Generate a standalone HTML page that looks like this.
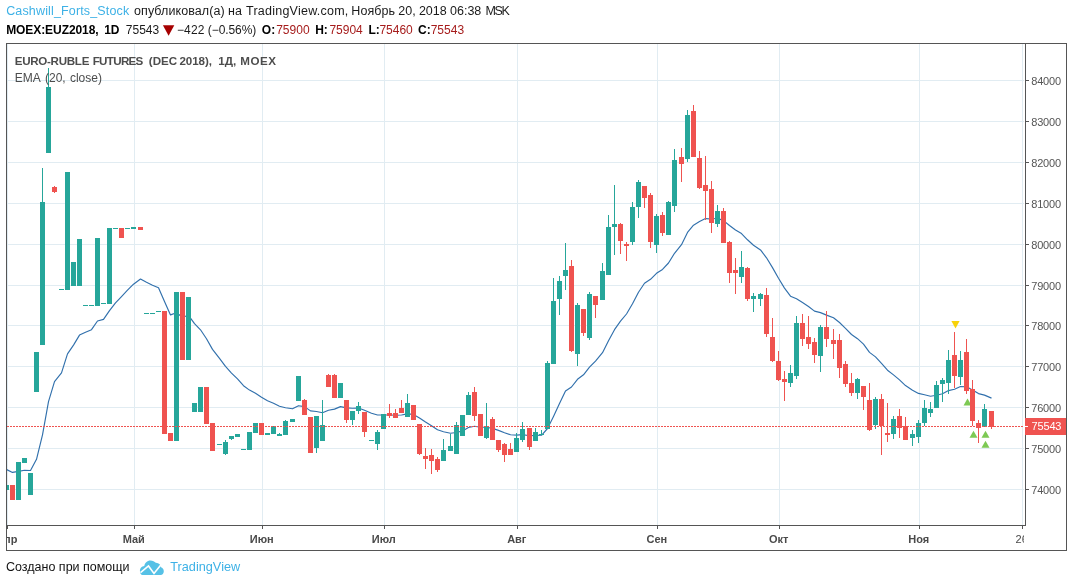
<!DOCTYPE html>
<html lang="ru"><head><meta charset="utf-8"><title>EUZ2018</title>
<style>
html,body{margin:0;padding:0;background:#fff;}
body{width:1073px;height:587px;position:relative;overflow:hidden;font-family:"Liberation Sans",sans-serif;}
svg{position:absolute;left:0;top:0;}
.t{position:absolute;white-space:nowrap;line-height:1;}
</style></head><body>
<svg width="1073" height="587" viewBox="0 0 1073 587">
<defs><clipPath id="plot"><rect x="7" y="44" width="1017" height="481"/></clipPath><clipPath id="xax"><rect x="7" y="526" width="1017" height="24"/></clipPath></defs>
<g shape-rendering="crispEdges" fill="#e1ecf2">
<rect x="7" y="80" width="1017" height="1"/>
<rect x="7" y="121" width="1017" height="1"/>
<rect x="7" y="162" width="1017" height="1"/>
<rect x="7" y="203" width="1017" height="1"/>
<rect x="7" y="244" width="1017" height="1"/>
<rect x="7" y="285" width="1017" height="1"/>
<rect x="7" y="325" width="1017" height="1"/>
<rect x="7" y="366" width="1017" height="1"/>
<rect x="7" y="407" width="1017" height="1"/>
<rect x="7" y="448" width="1017" height="1"/>
<rect x="7" y="489" width="1017" height="1"/>
<rect x="7" y="44" width="1" height="481"/>
<rect x="134" y="44" width="1" height="481"/>
<rect x="262" y="44" width="1" height="481"/>
<rect x="384" y="44" width="1" height="481"/>
<rect x="517" y="44" width="1" height="481"/>
<rect x="657" y="44" width="1" height="481"/>
<rect x="779" y="44" width="1" height="481"/>
<rect x="919" y="44" width="1" height="481"/>
<rect x="1022" y="44" width="1" height="481"/>
</g>
<polyline clip-path="url(#plot)" points="6.5,469.5 12.5,472.4 18.5,471.4 24.5,470.2 30.5,470.5 36.5,459.3 42.5,434.8 48.5,401.7 54.5,381.7 61.5,372.9 67.5,353.8 73.5,345.1 79.5,335.1 85.5,332.3 91.5,329.7 97.5,321.0 103.5,319.4 109.5,310.7 115.5,302.9 121.5,296.6 127.5,290.2 133.5,284.2 140.5,279.0 146.5,282.3 152.5,285.2 158.5,287.7 164.5,301.6 170.5,314.9 176.5,312.7 182.5,317.2 188.5,315.3 194.5,323.7 200.5,329.8 206.5,338.7 212.5,349.4 219.5,358.4 225.5,366.4 231.5,373.1 237.5,378.9 243.5,385.7 249.5,390.1 255.5,393.3 261.5,397.2 267.5,400.7 273.5,403.2 279.5,406.2 285.5,407.7 292.5,408.8 298.5,405.7 304.5,406.6 310.5,410.9 316.5,411.5 322.5,412.8 328.5,410.3 334.5,409.1 340.5,406.6 346.5,407.9 352.5,408.2 358.5,408.0 364.5,410.3 371.5,413.2 377.5,415.0 383.5,415.0 389.5,415.0 395.5,415.2 401.5,415.0 407.5,413.9 413.5,414.4 419.5,418.1 425.5,422.0 431.5,425.7 437.5,429.8 443.5,431.8 450.5,433.2 456.5,432.5 462.5,430.9 468.5,427.5 474.5,426.3 480.5,427.2 486.5,427.2 492.5,428.4 498.5,430.4 504.5,432.7 510.5,434.8 516.5,435.1 522.5,434.6 529.5,435.7 535.5,435.4 541.5,435.3 547.5,428.5 553.5,416.4 559.5,403.6 565.5,390.9 571.5,387.0 577.5,379.3 583.5,374.8 589.5,367.2 595.5,361.2 602.5,352.7 608.5,340.7 614.5,329.7 620.5,321.2 626.5,314.0 632.5,303.8 638.5,292.3 644.5,283.2 650.5,279.3 656.5,273.3 662.5,269.4 668.5,263.0 674.5,253.3 681.5,244.7 687.5,232.4 693.5,225.2 699.5,221.6 705.5,218.6 711.5,219.0 717.5,218.3 723.5,220.6 729.5,225.5 735.5,230.0 741.5,233.6 747.5,239.8 753.5,245.2 760.5,249.9 766.5,257.8 772.5,267.6 778.5,278.3 784.5,288.1 790.5,296.2 796.5,298.8 802.5,302.6 808.5,306.5 814.5,311.1 820.5,312.6 826.5,315.1 833.5,317.8 839.5,322.5 845.5,328.3 851.5,334.5 857.5,338.7 863.5,344.2 869.5,352.4 875.5,356.9 881.5,363.4 887.5,370.2 893.5,374.9 899.5,379.9 905.5,385.6 912.5,390.2 918.5,393.4 924.5,394.8 930.5,396.2 936.5,395.2 942.5,393.8 948.5,390.6 954.5,389.2 960.5,386.5 966.5,386.8 972.5,390.0 978.5,393.6 984.5,395.1 991.5,398.1" fill="none" stroke="#3170ac" stroke-width="1.15" stroke-linejoin="round"/>
<path d="M951.4 321.1L959.6 321.1L955.5 328.5z" fill="#f8d20a"/>
<path d="M963.5 405.6L967.5 398.6L971.5 405.6z" fill="#7dc954"/>
<path d="M969.5 437.7L973.5 430.7L977.5 437.7z" fill="#7dc954"/>
<path d="M981.5 437.7L985.5 430.7L989.5 437.7z" fill="#7dc954"/>
<path d="M981.5 447.8L985.5 440.8L989.5 447.8z" fill="#7dc954"/>
<g shape-rendering="crispEdges" clip-path="url(#plot)">
<rect x="4" y="485" width="5" height="5" fill="#26a69a"/>
<rect x="10" y="485" width="5" height="15" fill="#ef5350"/>
<rect x="16" y="462" width="5" height="38" fill="#26a69a"/>
<rect x="22" y="458" width="5" height="5" fill="#26a69a"/>
<rect x="28" y="473" width="5" height="22" fill="#26a69a"/>
<rect x="34" y="352" width="5" height="40" fill="#26a69a"/>
<rect x="42" y="168" width="1" height="177" fill="#26a69a"/>
<rect x="40" y="202" width="5" height="143" fill="#26a69a"/>
<rect x="48" y="68" width="1" height="85" fill="#26a69a"/>
<rect x="46" y="87" width="5" height="66" fill="#26a69a"/>
<rect x="54" y="186" width="1" height="7" fill="#ef5350"/>
<rect x="52" y="187" width="5" height="5" fill="#ef5350"/>
<rect x="59" y="289" width="5" height="1" fill="#26a69a"/>
<rect x="65" y="172" width="5" height="118" fill="#26a69a"/>
<rect x="71" y="262" width="5" height="24" fill="#26a69a"/>
<rect x="77" y="239" width="5" height="47" fill="#26a69a"/>
<rect x="83" y="305" width="5" height="1" fill="#26a69a"/>
<rect x="89" y="305" width="5" height="1" fill="#26a69a"/>
<rect x="95" y="238" width="5" height="68" fill="#26a69a"/>
<rect x="101" y="303" width="5" height="1" fill="#26a69a"/>
<rect x="107" y="228" width="5" height="76" fill="#26a69a"/>
<rect x="113" y="228" width="5" height="1" fill="#26a69a"/>
<rect x="119" y="228" width="5" height="10" fill="#ef5350"/>
<rect x="125" y="228" width="5" height="1" fill="#26a69a"/>
<rect x="131" y="227" width="5" height="2" fill="#26a69a"/>
<rect x="138" y="227" width="5" height="3" fill="#ef5350"/>
<rect x="144" y="313" width="5" height="1" fill="#26a69a"/>
<rect x="150" y="313" width="5" height="1" fill="#26a69a"/>
<rect x="156" y="311" width="5" height="1" fill="#26a69a"/>
<rect x="162" y="311" width="5" height="123" fill="#ef5350"/>
<rect x="168" y="433" width="5" height="8" fill="#ef5350"/>
<rect x="174" y="292" width="5" height="149" fill="#26a69a"/>
<rect x="180" y="292" width="5" height="68" fill="#ef5350"/>
<rect x="186" y="297" width="5" height="63" fill="#26a69a"/>
<rect x="192" y="403" width="5" height="9" fill="#26a69a"/>
<rect x="198" y="387" width="5" height="25" fill="#26a69a"/>
<rect x="204" y="387" width="5" height="37" fill="#ef5350"/>
<rect x="210" y="423" width="5" height="28" fill="#ef5350"/>
<rect x="217" y="444" width="5" height="1" fill="#26a69a"/>
<rect x="225" y="440" width="1" height="15" fill="#26a69a"/>
<rect x="223" y="442" width="5" height="12" fill="#26a69a"/>
<rect x="231" y="436" width="1" height="4" fill="#26a69a"/>
<rect x="229" y="436" width="5" height="3" fill="#26a69a"/>
<rect x="235" y="434" width="5" height="3" fill="#26a69a"/>
<rect x="241" y="449" width="5" height="1" fill="#26a69a"/>
<rect x="247" y="432" width="5" height="18" fill="#26a69a"/>
<rect x="253" y="423" width="5" height="10" fill="#26a69a"/>
<rect x="259" y="423" width="5" height="12" fill="#ef5350"/>
<rect x="265" y="433" width="5" height="2" fill="#26a69a"/>
<rect x="273" y="426" width="1" height="8" fill="#26a69a"/>
<rect x="271" y="427" width="5" height="7" fill="#26a69a"/>
<rect x="279" y="433" width="1" height="3" fill="#26a69a"/>
<rect x="277" y="434" width="5" height="2" fill="#26a69a"/>
<rect x="285" y="420" width="1" height="15" fill="#26a69a"/>
<rect x="283" y="421" width="5" height="14" fill="#26a69a"/>
<rect x="290" y="419" width="5" height="3" fill="#26a69a"/>
<rect x="296" y="376" width="5" height="25" fill="#26a69a"/>
<rect x="304" y="399" width="1" height="16" fill="#ef5350"/>
<rect x="302" y="400" width="5" height="15" fill="#ef5350"/>
<rect x="308" y="417" width="5" height="36" fill="#ef5350"/>
<rect x="316" y="416" width="1" height="37" fill="#26a69a"/>
<rect x="314" y="416" width="5" height="32" fill="#26a69a"/>
<rect x="322" y="400" width="1" height="41" fill="#26a69a"/>
<rect x="320" y="425" width="5" height="16" fill="#26a69a"/>
<rect x="328" y="374" width="1" height="13" fill="#ef5350"/>
<rect x="326" y="375" width="5" height="12" fill="#ef5350"/>
<rect x="334" y="374" width="1" height="24" fill="#ef5350"/>
<rect x="332" y="375" width="5" height="23" fill="#ef5350"/>
<rect x="338" y="383" width="5" height="15" fill="#26a69a"/>
<rect x="346" y="400" width="1" height="23" fill="#ef5350"/>
<rect x="344" y="400" width="5" height="20" fill="#ef5350"/>
<rect x="352" y="411" width="1" height="14" fill="#26a69a"/>
<rect x="350" y="411" width="5" height="9" fill="#26a69a"/>
<rect x="358" y="402" width="1" height="12" fill="#26a69a"/>
<rect x="356" y="406" width="5" height="5" fill="#26a69a"/>
<rect x="364" y="412" width="1" height="25" fill="#ef5350"/>
<rect x="362" y="412" width="5" height="20" fill="#ef5350"/>
<rect x="369" y="440" width="5" height="1" fill="#26a69a"/>
<rect x="377" y="430" width="1" height="20" fill="#26a69a"/>
<rect x="375" y="432" width="5" height="12" fill="#26a69a"/>
<rect x="381" y="414" width="5" height="15" fill="#26a69a"/>
<rect x="389" y="404" width="1" height="14" fill="#ef5350"/>
<rect x="387" y="413" width="5" height="3" fill="#ef5350"/>
<rect x="395" y="409" width="1" height="9" fill="#ef5350"/>
<rect x="393" y="413" width="5" height="5" fill="#ef5350"/>
<rect x="401" y="400" width="1" height="13" fill="#ef5350"/>
<rect x="399" y="408" width="5" height="5" fill="#ef5350"/>
<rect x="407" y="394" width="1" height="23" fill="#26a69a"/>
<rect x="405" y="403" width="5" height="14" fill="#26a69a"/>
<rect x="411" y="405" width="5" height="15" fill="#ef5350"/>
<rect x="419" y="424" width="1" height="31" fill="#ef5350"/>
<rect x="417" y="424" width="5" height="30" fill="#ef5350"/>
<rect x="425" y="448" width="1" height="21" fill="#ef5350"/>
<rect x="423" y="456" width="5" height="3" fill="#ef5350"/>
<rect x="431" y="449" width="1" height="25" fill="#ef5350"/>
<rect x="429" y="455" width="5" height="6" fill="#ef5350"/>
<rect x="437" y="457" width="1" height="15" fill="#ef5350"/>
<rect x="435" y="459" width="5" height="11" fill="#ef5350"/>
<rect x="443" y="439" width="1" height="22" fill="#26a69a"/>
<rect x="441" y="450" width="5" height="11" fill="#26a69a"/>
<rect x="450" y="434" width="1" height="17" fill="#26a69a"/>
<rect x="448" y="446" width="5" height="5" fill="#26a69a"/>
<rect x="456" y="422" width="1" height="32" fill="#26a69a"/>
<rect x="454" y="425" width="5" height="29" fill="#26a69a"/>
<rect x="460" y="415" width="5" height="21" fill="#26a69a"/>
<rect x="468" y="392" width="1" height="23" fill="#26a69a"/>
<rect x="466" y="395" width="5" height="20" fill="#26a69a"/>
<rect x="474" y="387" width="1" height="34" fill="#ef5350"/>
<rect x="472" y="392" width="5" height="24" fill="#ef5350"/>
<rect x="478" y="414" width="5" height="22" fill="#ef5350"/>
<rect x="486" y="403" width="1" height="36" fill="#26a69a"/>
<rect x="484" y="427" width="5" height="11" fill="#26a69a"/>
<rect x="492" y="417" width="1" height="23" fill="#ef5350"/>
<rect x="490" y="419" width="5" height="21" fill="#ef5350"/>
<rect x="498" y="440" width="1" height="12" fill="#ef5350"/>
<rect x="496" y="440" width="5" height="10" fill="#ef5350"/>
<rect x="504" y="443" width="1" height="19" fill="#ef5350"/>
<rect x="502" y="444" width="5" height="11" fill="#ef5350"/>
<rect x="510" y="443" width="1" height="12" fill="#ef5350"/>
<rect x="508" y="449" width="5" height="6" fill="#ef5350"/>
<rect x="516" y="433" width="1" height="19" fill="#26a69a"/>
<rect x="514" y="438" width="5" height="14" fill="#26a69a"/>
<rect x="522" y="422" width="1" height="20" fill="#26a69a"/>
<rect x="520" y="429" width="5" height="11" fill="#26a69a"/>
<rect x="529" y="428" width="1" height="22" fill="#ef5350"/>
<rect x="527" y="428" width="5" height="19" fill="#ef5350"/>
<rect x="535" y="428" width="1" height="13" fill="#26a69a"/>
<rect x="533" y="432" width="5" height="9" fill="#26a69a"/>
<rect x="541" y="430" width="1" height="5" fill="#26a69a"/>
<rect x="539" y="434" width="5" height="1" fill="#26a69a"/>
<rect x="547" y="361" width="1" height="68" fill="#26a69a"/>
<rect x="545" y="363" width="5" height="66" fill="#26a69a"/>
<rect x="553" y="278" width="1" height="86" fill="#26a69a"/>
<rect x="551" y="301" width="5" height="63" fill="#26a69a"/>
<rect x="559" y="276" width="1" height="39" fill="#26a69a"/>
<rect x="557" y="281" width="5" height="18" fill="#26a69a"/>
<rect x="565" y="243" width="1" height="47" fill="#26a69a"/>
<rect x="563" y="270" width="5" height="6" fill="#26a69a"/>
<rect x="571" y="260" width="1" height="92" fill="#ef5350"/>
<rect x="569" y="266" width="5" height="85" fill="#ef5350"/>
<rect x="577" y="303" width="1" height="63" fill="#26a69a"/>
<rect x="575" y="305" width="5" height="49" fill="#26a69a"/>
<rect x="583" y="309" width="1" height="27" fill="#ef5350"/>
<rect x="581" y="309" width="5" height="24" fill="#ef5350"/>
<rect x="589" y="292" width="1" height="48" fill="#26a69a"/>
<rect x="587" y="294" width="5" height="44" fill="#26a69a"/>
<rect x="595" y="296" width="1" height="22" fill="#ef5350"/>
<rect x="593" y="296" width="5" height="9" fill="#ef5350"/>
<rect x="602" y="263" width="1" height="37" fill="#26a69a"/>
<rect x="600" y="271" width="5" height="29" fill="#26a69a"/>
<rect x="608" y="215" width="1" height="60" fill="#26a69a"/>
<rect x="606" y="227" width="5" height="48" fill="#26a69a"/>
<rect x="614" y="185" width="1" height="70" fill="#26a69a"/>
<rect x="612" y="224" width="5" height="3" fill="#26a69a"/>
<rect x="620" y="223" width="1" height="31" fill="#ef5350"/>
<rect x="618" y="224" width="5" height="17" fill="#ef5350"/>
<rect x="626" y="242" width="1" height="19" fill="#ef5350"/>
<rect x="624" y="244" width="5" height="2" fill="#ef5350"/>
<rect x="632" y="202" width="1" height="43" fill="#26a69a"/>
<rect x="630" y="207" width="5" height="35" fill="#26a69a"/>
<rect x="638" y="180" width="1" height="38" fill="#26a69a"/>
<rect x="636" y="182" width="5" height="25" fill="#26a69a"/>
<rect x="644" y="186" width="1" height="22" fill="#ef5350"/>
<rect x="642" y="186" width="5" height="12" fill="#ef5350"/>
<rect x="650" y="193" width="1" height="55" fill="#ef5350"/>
<rect x="648" y="195" width="5" height="47" fill="#ef5350"/>
<rect x="656" y="214" width="1" height="39" fill="#26a69a"/>
<rect x="654" y="216" width="5" height="29" fill="#26a69a"/>
<rect x="662" y="212" width="1" height="24" fill="#ef5350"/>
<rect x="660" y="215" width="5" height="18" fill="#ef5350"/>
<rect x="668" y="201" width="1" height="34" fill="#26a69a"/>
<rect x="666" y="202" width="5" height="33" fill="#26a69a"/>
<rect x="674" y="149" width="1" height="63" fill="#26a69a"/>
<rect x="672" y="160" width="5" height="46" fill="#26a69a"/>
<rect x="681" y="148" width="1" height="34" fill="#ef5350"/>
<rect x="679" y="157" width="5" height="7" fill="#ef5350"/>
<rect x="687" y="110" width="1" height="52" fill="#26a69a"/>
<rect x="685" y="115" width="5" height="44" fill="#26a69a"/>
<rect x="693" y="105" width="1" height="52" fill="#ef5350"/>
<rect x="691" y="111" width="5" height="46" fill="#ef5350"/>
<rect x="699" y="151" width="1" height="38" fill="#ef5350"/>
<rect x="697" y="158" width="5" height="30" fill="#ef5350"/>
<rect x="705" y="156" width="1" height="64" fill="#ef5350"/>
<rect x="703" y="185" width="5" height="6" fill="#ef5350"/>
<rect x="711" y="181" width="1" height="52" fill="#ef5350"/>
<rect x="709" y="189" width="5" height="34" fill="#ef5350"/>
<rect x="717" y="205" width="1" height="22" fill="#26a69a"/>
<rect x="715" y="211" width="5" height="13" fill="#26a69a"/>
<rect x="723" y="208" width="1" height="35" fill="#ef5350"/>
<rect x="721" y="211" width="5" height="32" fill="#ef5350"/>
<rect x="729" y="241" width="1" height="42" fill="#ef5350"/>
<rect x="727" y="242" width="5" height="31" fill="#ef5350"/>
<rect x="735" y="258" width="1" height="36" fill="#ef5350"/>
<rect x="733" y="270" width="5" height="3" fill="#ef5350"/>
<rect x="741" y="251" width="1" height="32" fill="#26a69a"/>
<rect x="739" y="267" width="5" height="10" fill="#26a69a"/>
<rect x="747" y="267" width="1" height="34" fill="#ef5350"/>
<rect x="745" y="268" width="5" height="31" fill="#ef5350"/>
<rect x="753" y="293" width="1" height="19" fill="#26a69a"/>
<rect x="751" y="296" width="5" height="3" fill="#26a69a"/>
<rect x="760" y="293" width="1" height="13" fill="#26a69a"/>
<rect x="758" y="294" width="5" height="5" fill="#26a69a"/>
<rect x="766" y="288" width="1" height="49" fill="#ef5350"/>
<rect x="764" y="295" width="5" height="39" fill="#ef5350"/>
<rect x="772" y="318" width="1" height="44" fill="#ef5350"/>
<rect x="770" y="337" width="5" height="24" fill="#ef5350"/>
<rect x="778" y="351" width="1" height="30" fill="#ef5350"/>
<rect x="776" y="361" width="5" height="19" fill="#ef5350"/>
<rect x="784" y="371" width="1" height="30" fill="#ef5350"/>
<rect x="782" y="379" width="5" height="3" fill="#ef5350"/>
<rect x="790" y="365" width="1" height="22" fill="#26a69a"/>
<rect x="788" y="373" width="5" height="10" fill="#26a69a"/>
<rect x="796" y="316" width="1" height="63" fill="#26a69a"/>
<rect x="794" y="323" width="5" height="53" fill="#26a69a"/>
<rect x="802" y="314" width="1" height="32" fill="#ef5350"/>
<rect x="800" y="323" width="5" height="16" fill="#ef5350"/>
<rect x="808" y="316" width="1" height="33" fill="#ef5350"/>
<rect x="806" y="337" width="5" height="7" fill="#ef5350"/>
<rect x="814" y="338" width="1" height="25" fill="#ef5350"/>
<rect x="812" y="342" width="5" height="13" fill="#ef5350"/>
<rect x="820" y="325" width="1" height="47" fill="#26a69a"/>
<rect x="818" y="327" width="5" height="29" fill="#26a69a"/>
<rect x="826" y="311" width="1" height="36" fill="#ef5350"/>
<rect x="824" y="327" width="5" height="12" fill="#ef5350"/>
<rect x="833" y="329" width="1" height="30" fill="#ef5350"/>
<rect x="831" y="340" width="5" height="4" fill="#ef5350"/>
<rect x="839" y="334" width="1" height="44" fill="#ef5350"/>
<rect x="837" y="340" width="5" height="28" fill="#ef5350"/>
<rect x="845" y="361" width="1" height="26" fill="#ef5350"/>
<rect x="843" y="364" width="5" height="20" fill="#ef5350"/>
<rect x="851" y="373" width="1" height="23" fill="#ef5350"/>
<rect x="849" y="383" width="5" height="10" fill="#ef5350"/>
<rect x="857" y="378" width="1" height="21" fill="#26a69a"/>
<rect x="855" y="379" width="5" height="14" fill="#26a69a"/>
<rect x="863" y="386" width="1" height="24" fill="#ef5350"/>
<rect x="861" y="386" width="5" height="11" fill="#ef5350"/>
<rect x="869" y="383" width="1" height="48" fill="#ef5350"/>
<rect x="867" y="400" width="5" height="30" fill="#ef5350"/>
<rect x="875" y="397" width="1" height="32" fill="#26a69a"/>
<rect x="873" y="399" width="5" height="26" fill="#26a69a"/>
<rect x="881" y="394" width="1" height="61" fill="#ef5350"/>
<rect x="879" y="399" width="5" height="27" fill="#ef5350"/>
<rect x="887" y="403" width="1" height="39" fill="#ef5350"/>
<rect x="885" y="433" width="5" height="2" fill="#ef5350"/>
<rect x="893" y="416" width="1" height="23" fill="#26a69a"/>
<rect x="891" y="419" width="5" height="15" fill="#26a69a"/>
<rect x="899" y="409" width="1" height="29" fill="#ef5350"/>
<rect x="897" y="416" width="5" height="12" fill="#ef5350"/>
<rect x="905" y="417" width="1" height="23" fill="#ef5350"/>
<rect x="903" y="426" width="5" height="14" fill="#ef5350"/>
<rect x="912" y="430" width="1" height="16" fill="#26a69a"/>
<rect x="910" y="434" width="5" height="4" fill="#26a69a"/>
<rect x="918" y="420" width="1" height="23" fill="#26a69a"/>
<rect x="916" y="423" width="5" height="14" fill="#26a69a"/>
<rect x="924" y="400" width="1" height="26" fill="#26a69a"/>
<rect x="922" y="408" width="5" height="15" fill="#26a69a"/>
<rect x="930" y="402" width="1" height="15" fill="#26a69a"/>
<rect x="928" y="409" width="5" height="4" fill="#26a69a"/>
<rect x="936" y="381" width="1" height="27" fill="#26a69a"/>
<rect x="934" y="385" width="5" height="23" fill="#26a69a"/>
<rect x="942" y="378" width="1" height="24" fill="#26a69a"/>
<rect x="940" y="380" width="5" height="4" fill="#26a69a"/>
<rect x="948" y="350" width="1" height="44" fill="#26a69a"/>
<rect x="946" y="360" width="5" height="23" fill="#26a69a"/>
<rect x="954" y="332" width="1" height="56" fill="#ef5350"/>
<rect x="952" y="355" width="5" height="21" fill="#ef5350"/>
<rect x="960" y="351" width="1" height="34" fill="#26a69a"/>
<rect x="958" y="360" width="5" height="17" fill="#26a69a"/>
<rect x="966" y="339" width="1" height="55" fill="#ef5350"/>
<rect x="964" y="352" width="5" height="39" fill="#ef5350"/>
<rect x="972" y="380" width="1" height="46" fill="#ef5350"/>
<rect x="970" y="389" width="5" height="32" fill="#ef5350"/>
<rect x="978" y="420" width="1" height="23" fill="#ef5350"/>
<rect x="976" y="423" width="5" height="5" fill="#ef5350"/>
<rect x="984" y="404" width="1" height="23" fill="#26a69a"/>
<rect x="982" y="409" width="5" height="18" fill="#26a69a"/>
<rect x="991" y="411" width="1" height="18" fill="#ef5350"/>
<rect x="989" y="411" width="5" height="16" fill="#ef5350"/>
</g>
<g shape-rendering="crispEdges" fill="#ef5350">
<path d="M7 426h1v1h-1zM8 426h1v1h-1zM10 426h1v1h-1zM11 426h1v1h-1zM13 426h1v1h-1zM14 426h1v1h-1zM16 426h1v1h-1zM17 426h1v1h-1zM19 426h1v1h-1zM20 426h1v1h-1zM22 426h1v1h-1zM23 426h1v1h-1zM25 426h1v1h-1zM26 426h1v1h-1zM28 426h1v1h-1zM29 426h1v1h-1zM31 426h1v1h-1zM32 426h1v1h-1zM34 426h1v1h-1zM35 426h1v1h-1zM37 426h1v1h-1zM38 426h1v1h-1zM40 426h1v1h-1zM41 426h1v1h-1zM43 426h1v1h-1zM44 426h1v1h-1zM46 426h1v1h-1zM47 426h1v1h-1zM49 426h1v1h-1zM50 426h1v1h-1zM52 426h1v1h-1zM53 426h1v1h-1zM55 426h1v1h-1zM56 426h1v1h-1zM58 426h1v1h-1zM59 426h1v1h-1zM61 426h1v1h-1zM62 426h1v1h-1zM64 426h1v1h-1zM65 426h1v1h-1zM67 426h1v1h-1zM68 426h1v1h-1zM70 426h1v1h-1zM71 426h1v1h-1zM73 426h1v1h-1zM74 426h1v1h-1zM76 426h1v1h-1zM77 426h1v1h-1zM79 426h1v1h-1zM80 426h1v1h-1zM82 426h1v1h-1zM83 426h1v1h-1zM85 426h1v1h-1zM86 426h1v1h-1zM88 426h1v1h-1zM89 426h1v1h-1zM91 426h1v1h-1zM92 426h1v1h-1zM94 426h1v1h-1zM95 426h1v1h-1zM97 426h1v1h-1zM98 426h1v1h-1zM100 426h1v1h-1zM101 426h1v1h-1zM103 426h1v1h-1zM104 426h1v1h-1zM106 426h1v1h-1zM107 426h1v1h-1zM109 426h1v1h-1zM110 426h1v1h-1zM112 426h1v1h-1zM113 426h1v1h-1zM115 426h1v1h-1zM116 426h1v1h-1zM118 426h1v1h-1zM119 426h1v1h-1zM121 426h1v1h-1zM122 426h1v1h-1zM124 426h1v1h-1zM125 426h1v1h-1zM127 426h1v1h-1zM128 426h1v1h-1zM130 426h1v1h-1zM131 426h1v1h-1zM133 426h1v1h-1zM134 426h1v1h-1zM136 426h1v1h-1zM137 426h1v1h-1zM139 426h1v1h-1zM140 426h1v1h-1zM142 426h1v1h-1zM143 426h1v1h-1zM145 426h1v1h-1zM146 426h1v1h-1zM148 426h1v1h-1zM149 426h1v1h-1zM151 426h1v1h-1zM152 426h1v1h-1zM154 426h1v1h-1zM155 426h1v1h-1zM157 426h1v1h-1zM158 426h1v1h-1zM160 426h1v1h-1zM161 426h1v1h-1zM163 426h1v1h-1zM164 426h1v1h-1zM166 426h1v1h-1zM167 426h1v1h-1zM169 426h1v1h-1zM170 426h1v1h-1zM172 426h1v1h-1zM173 426h1v1h-1zM175 426h1v1h-1zM176 426h1v1h-1zM178 426h1v1h-1zM179 426h1v1h-1zM181 426h1v1h-1zM182 426h1v1h-1zM184 426h1v1h-1zM185 426h1v1h-1zM187 426h1v1h-1zM188 426h1v1h-1zM190 426h1v1h-1zM191 426h1v1h-1zM193 426h1v1h-1zM194 426h1v1h-1zM196 426h1v1h-1zM197 426h1v1h-1zM199 426h1v1h-1zM200 426h1v1h-1zM202 426h1v1h-1zM203 426h1v1h-1zM205 426h1v1h-1zM206 426h1v1h-1zM208 426h1v1h-1zM209 426h1v1h-1zM211 426h1v1h-1zM212 426h1v1h-1zM214 426h1v1h-1zM215 426h1v1h-1zM217 426h1v1h-1zM218 426h1v1h-1zM220 426h1v1h-1zM221 426h1v1h-1zM223 426h1v1h-1zM224 426h1v1h-1zM226 426h1v1h-1zM227 426h1v1h-1zM229 426h1v1h-1zM230 426h1v1h-1zM232 426h1v1h-1zM233 426h1v1h-1zM235 426h1v1h-1zM236 426h1v1h-1zM238 426h1v1h-1zM239 426h1v1h-1zM241 426h1v1h-1zM242 426h1v1h-1zM244 426h1v1h-1zM245 426h1v1h-1zM247 426h1v1h-1zM248 426h1v1h-1zM250 426h1v1h-1zM251 426h1v1h-1zM253 426h1v1h-1zM254 426h1v1h-1zM256 426h1v1h-1zM257 426h1v1h-1zM259 426h1v1h-1zM260 426h1v1h-1zM262 426h1v1h-1zM263 426h1v1h-1zM265 426h1v1h-1zM266 426h1v1h-1zM268 426h1v1h-1zM269 426h1v1h-1zM271 426h1v1h-1zM272 426h1v1h-1zM274 426h1v1h-1zM275 426h1v1h-1zM277 426h1v1h-1zM278 426h1v1h-1zM280 426h1v1h-1zM281 426h1v1h-1zM283 426h1v1h-1zM284 426h1v1h-1zM286 426h1v1h-1zM287 426h1v1h-1zM289 426h1v1h-1zM290 426h1v1h-1zM292 426h1v1h-1zM293 426h1v1h-1zM295 426h1v1h-1zM296 426h1v1h-1zM298 426h1v1h-1zM299 426h1v1h-1zM301 426h1v1h-1zM302 426h1v1h-1zM304 426h1v1h-1zM305 426h1v1h-1zM307 426h1v1h-1zM308 426h1v1h-1zM310 426h1v1h-1zM311 426h1v1h-1zM313 426h1v1h-1zM314 426h1v1h-1zM316 426h1v1h-1zM317 426h1v1h-1zM319 426h1v1h-1zM320 426h1v1h-1zM322 426h1v1h-1zM323 426h1v1h-1zM325 426h1v1h-1zM326 426h1v1h-1zM328 426h1v1h-1zM329 426h1v1h-1zM331 426h1v1h-1zM332 426h1v1h-1zM334 426h1v1h-1zM335 426h1v1h-1zM337 426h1v1h-1zM338 426h1v1h-1zM340 426h1v1h-1zM341 426h1v1h-1zM343 426h1v1h-1zM344 426h1v1h-1zM346 426h1v1h-1zM347 426h1v1h-1zM349 426h1v1h-1zM350 426h1v1h-1zM352 426h1v1h-1zM353 426h1v1h-1zM355 426h1v1h-1zM356 426h1v1h-1zM358 426h1v1h-1zM359 426h1v1h-1zM361 426h1v1h-1zM362 426h1v1h-1zM364 426h1v1h-1zM365 426h1v1h-1zM367 426h1v1h-1zM368 426h1v1h-1zM370 426h1v1h-1zM371 426h1v1h-1zM373 426h1v1h-1zM374 426h1v1h-1zM376 426h1v1h-1zM377 426h1v1h-1zM379 426h1v1h-1zM380 426h1v1h-1zM382 426h1v1h-1zM383 426h1v1h-1zM385 426h1v1h-1zM386 426h1v1h-1zM388 426h1v1h-1zM389 426h1v1h-1zM391 426h1v1h-1zM392 426h1v1h-1zM394 426h1v1h-1zM395 426h1v1h-1zM397 426h1v1h-1zM398 426h1v1h-1zM400 426h1v1h-1zM401 426h1v1h-1zM403 426h1v1h-1zM404 426h1v1h-1zM406 426h1v1h-1zM407 426h1v1h-1zM409 426h1v1h-1zM410 426h1v1h-1zM412 426h1v1h-1zM413 426h1v1h-1zM415 426h1v1h-1zM416 426h1v1h-1zM418 426h1v1h-1zM419 426h1v1h-1zM421 426h1v1h-1zM422 426h1v1h-1zM424 426h1v1h-1zM425 426h1v1h-1zM427 426h1v1h-1zM428 426h1v1h-1zM430 426h1v1h-1zM431 426h1v1h-1zM433 426h1v1h-1zM434 426h1v1h-1zM436 426h1v1h-1zM437 426h1v1h-1zM439 426h1v1h-1zM440 426h1v1h-1zM442 426h1v1h-1zM443 426h1v1h-1zM445 426h1v1h-1zM446 426h1v1h-1zM448 426h1v1h-1zM449 426h1v1h-1zM451 426h1v1h-1zM452 426h1v1h-1zM454 426h1v1h-1zM455 426h1v1h-1zM457 426h1v1h-1zM458 426h1v1h-1zM460 426h1v1h-1zM461 426h1v1h-1zM463 426h1v1h-1zM464 426h1v1h-1zM466 426h1v1h-1zM467 426h1v1h-1zM469 426h1v1h-1zM470 426h1v1h-1zM472 426h1v1h-1zM473 426h1v1h-1zM475 426h1v1h-1zM476 426h1v1h-1zM478 426h1v1h-1zM479 426h1v1h-1zM481 426h1v1h-1zM482 426h1v1h-1zM484 426h1v1h-1zM485 426h1v1h-1zM487 426h1v1h-1zM488 426h1v1h-1zM490 426h1v1h-1zM491 426h1v1h-1zM493 426h1v1h-1zM494 426h1v1h-1zM496 426h1v1h-1zM497 426h1v1h-1zM499 426h1v1h-1zM500 426h1v1h-1zM502 426h1v1h-1zM503 426h1v1h-1zM505 426h1v1h-1zM506 426h1v1h-1zM508 426h1v1h-1zM509 426h1v1h-1zM511 426h1v1h-1zM512 426h1v1h-1zM514 426h1v1h-1zM515 426h1v1h-1zM517 426h1v1h-1zM518 426h1v1h-1zM520 426h1v1h-1zM521 426h1v1h-1zM523 426h1v1h-1zM524 426h1v1h-1zM526 426h1v1h-1zM527 426h1v1h-1zM529 426h1v1h-1zM530 426h1v1h-1zM532 426h1v1h-1zM533 426h1v1h-1zM535 426h1v1h-1zM536 426h1v1h-1zM538 426h1v1h-1zM539 426h1v1h-1zM541 426h1v1h-1zM542 426h1v1h-1zM544 426h1v1h-1zM545 426h1v1h-1zM547 426h1v1h-1zM548 426h1v1h-1zM550 426h1v1h-1zM551 426h1v1h-1zM553 426h1v1h-1zM554 426h1v1h-1zM556 426h1v1h-1zM557 426h1v1h-1zM559 426h1v1h-1zM560 426h1v1h-1zM562 426h1v1h-1zM563 426h1v1h-1zM565 426h1v1h-1zM566 426h1v1h-1zM568 426h1v1h-1zM569 426h1v1h-1zM571 426h1v1h-1zM572 426h1v1h-1zM574 426h1v1h-1zM575 426h1v1h-1zM577 426h1v1h-1zM578 426h1v1h-1zM580 426h1v1h-1zM581 426h1v1h-1zM583 426h1v1h-1zM584 426h1v1h-1zM586 426h1v1h-1zM587 426h1v1h-1zM589 426h1v1h-1zM590 426h1v1h-1zM592 426h1v1h-1zM593 426h1v1h-1zM595 426h1v1h-1zM596 426h1v1h-1zM598 426h1v1h-1zM599 426h1v1h-1zM601 426h1v1h-1zM602 426h1v1h-1zM604 426h1v1h-1zM605 426h1v1h-1zM607 426h1v1h-1zM608 426h1v1h-1zM610 426h1v1h-1zM611 426h1v1h-1zM613 426h1v1h-1zM614 426h1v1h-1zM616 426h1v1h-1zM617 426h1v1h-1zM619 426h1v1h-1zM620 426h1v1h-1zM622 426h1v1h-1zM623 426h1v1h-1zM625 426h1v1h-1zM626 426h1v1h-1zM628 426h1v1h-1zM629 426h1v1h-1zM631 426h1v1h-1zM632 426h1v1h-1zM634 426h1v1h-1zM635 426h1v1h-1zM637 426h1v1h-1zM638 426h1v1h-1zM640 426h1v1h-1zM641 426h1v1h-1zM643 426h1v1h-1zM644 426h1v1h-1zM646 426h1v1h-1zM647 426h1v1h-1zM649 426h1v1h-1zM650 426h1v1h-1zM652 426h1v1h-1zM653 426h1v1h-1zM655 426h1v1h-1zM656 426h1v1h-1zM658 426h1v1h-1zM659 426h1v1h-1zM661 426h1v1h-1zM662 426h1v1h-1zM664 426h1v1h-1zM665 426h1v1h-1zM667 426h1v1h-1zM668 426h1v1h-1zM670 426h1v1h-1zM671 426h1v1h-1zM673 426h1v1h-1zM674 426h1v1h-1zM676 426h1v1h-1zM677 426h1v1h-1zM679 426h1v1h-1zM680 426h1v1h-1zM682 426h1v1h-1zM683 426h1v1h-1zM685 426h1v1h-1zM686 426h1v1h-1zM688 426h1v1h-1zM689 426h1v1h-1zM691 426h1v1h-1zM692 426h1v1h-1zM694 426h1v1h-1zM695 426h1v1h-1zM697 426h1v1h-1zM698 426h1v1h-1zM700 426h1v1h-1zM701 426h1v1h-1zM703 426h1v1h-1zM704 426h1v1h-1zM706 426h1v1h-1zM707 426h1v1h-1zM709 426h1v1h-1zM710 426h1v1h-1zM712 426h1v1h-1zM713 426h1v1h-1zM715 426h1v1h-1zM716 426h1v1h-1zM718 426h1v1h-1zM719 426h1v1h-1zM721 426h1v1h-1zM722 426h1v1h-1zM724 426h1v1h-1zM725 426h1v1h-1zM727 426h1v1h-1zM728 426h1v1h-1zM730 426h1v1h-1zM731 426h1v1h-1zM733 426h1v1h-1zM734 426h1v1h-1zM736 426h1v1h-1zM737 426h1v1h-1zM739 426h1v1h-1zM740 426h1v1h-1zM742 426h1v1h-1zM743 426h1v1h-1zM745 426h1v1h-1zM746 426h1v1h-1zM748 426h1v1h-1zM749 426h1v1h-1zM751 426h1v1h-1zM752 426h1v1h-1zM754 426h1v1h-1zM755 426h1v1h-1zM757 426h1v1h-1zM758 426h1v1h-1zM760 426h1v1h-1zM761 426h1v1h-1zM763 426h1v1h-1zM764 426h1v1h-1zM766 426h1v1h-1zM767 426h1v1h-1zM769 426h1v1h-1zM770 426h1v1h-1zM772 426h1v1h-1zM773 426h1v1h-1zM775 426h1v1h-1zM776 426h1v1h-1zM778 426h1v1h-1zM779 426h1v1h-1zM781 426h1v1h-1zM782 426h1v1h-1zM784 426h1v1h-1zM785 426h1v1h-1zM787 426h1v1h-1zM788 426h1v1h-1zM790 426h1v1h-1zM791 426h1v1h-1zM793 426h1v1h-1zM794 426h1v1h-1zM796 426h1v1h-1zM797 426h1v1h-1zM799 426h1v1h-1zM800 426h1v1h-1zM802 426h1v1h-1zM803 426h1v1h-1zM805 426h1v1h-1zM806 426h1v1h-1zM808 426h1v1h-1zM809 426h1v1h-1zM811 426h1v1h-1zM812 426h1v1h-1zM814 426h1v1h-1zM815 426h1v1h-1zM817 426h1v1h-1zM818 426h1v1h-1zM820 426h1v1h-1zM821 426h1v1h-1zM823 426h1v1h-1zM824 426h1v1h-1zM826 426h1v1h-1zM827 426h1v1h-1zM829 426h1v1h-1zM830 426h1v1h-1zM832 426h1v1h-1zM833 426h1v1h-1zM835 426h1v1h-1zM836 426h1v1h-1zM838 426h1v1h-1zM839 426h1v1h-1zM841 426h1v1h-1zM842 426h1v1h-1zM844 426h1v1h-1zM845 426h1v1h-1zM847 426h1v1h-1zM848 426h1v1h-1zM850 426h1v1h-1zM851 426h1v1h-1zM853 426h1v1h-1zM854 426h1v1h-1zM856 426h1v1h-1zM857 426h1v1h-1zM859 426h1v1h-1zM860 426h1v1h-1zM862 426h1v1h-1zM863 426h1v1h-1zM865 426h1v1h-1zM866 426h1v1h-1zM868 426h1v1h-1zM869 426h1v1h-1zM871 426h1v1h-1zM872 426h1v1h-1zM874 426h1v1h-1zM875 426h1v1h-1zM877 426h1v1h-1zM878 426h1v1h-1zM880 426h1v1h-1zM881 426h1v1h-1zM883 426h1v1h-1zM884 426h1v1h-1zM886 426h1v1h-1zM887 426h1v1h-1zM889 426h1v1h-1zM890 426h1v1h-1zM892 426h1v1h-1zM893 426h1v1h-1zM895 426h1v1h-1zM896 426h1v1h-1zM898 426h1v1h-1zM899 426h1v1h-1zM901 426h1v1h-1zM902 426h1v1h-1zM904 426h1v1h-1zM905 426h1v1h-1zM907 426h1v1h-1zM908 426h1v1h-1zM910 426h1v1h-1zM911 426h1v1h-1zM913 426h1v1h-1zM914 426h1v1h-1zM916 426h1v1h-1zM917 426h1v1h-1zM919 426h1v1h-1zM920 426h1v1h-1zM922 426h1v1h-1zM923 426h1v1h-1zM925 426h1v1h-1zM926 426h1v1h-1zM928 426h1v1h-1zM929 426h1v1h-1zM931 426h1v1h-1zM932 426h1v1h-1zM934 426h1v1h-1zM935 426h1v1h-1zM937 426h1v1h-1zM938 426h1v1h-1zM940 426h1v1h-1zM941 426h1v1h-1zM943 426h1v1h-1zM944 426h1v1h-1zM946 426h1v1h-1zM947 426h1v1h-1zM949 426h1v1h-1zM950 426h1v1h-1zM952 426h1v1h-1zM953 426h1v1h-1zM955 426h1v1h-1zM956 426h1v1h-1zM958 426h1v1h-1zM959 426h1v1h-1zM961 426h1v1h-1zM962 426h1v1h-1zM964 426h1v1h-1zM965 426h1v1h-1zM967 426h1v1h-1zM968 426h1v1h-1zM970 426h1v1h-1zM971 426h1v1h-1zM973 426h1v1h-1zM974 426h1v1h-1zM976 426h1v1h-1zM977 426h1v1h-1zM979 426h1v1h-1zM980 426h1v1h-1zM982 426h1v1h-1zM983 426h1v1h-1zM985 426h1v1h-1zM986 426h1v1h-1zM988 426h1v1h-1zM989 426h1v1h-1zM991 426h1v1h-1zM992 426h1v1h-1zM994 426h1v1h-1zM995 426h1v1h-1zM997 426h1v1h-1zM998 426h1v1h-1zM1000 426h1v1h-1zM1001 426h1v1h-1zM1003 426h1v1h-1zM1004 426h1v1h-1zM1006 426h1v1h-1zM1007 426h1v1h-1zM1009 426h1v1h-1zM1010 426h1v1h-1zM1012 426h1v1h-1zM1013 426h1v1h-1zM1015 426h1v1h-1zM1016 426h1v1h-1zM1018 426h1v1h-1zM1019 426h1v1h-1zM1021 426h1v1h-1zM1022 426h1v1h-1z"/>
</g>
<g shape-rendering="crispEdges" fill="#555555">
<rect x="6" y="43" width="1061" height="1"/>
<rect x="6" y="550" width="1061" height="1"/>
<rect x="6" y="43" width="1" height="508"/>
<rect x="1066" y="43" width="1" height="508"/>
<rect x="1025" y="43" width="1" height="483"/>
<rect x="6" y="525" width="1020" height="1"/>
<rect x="1026" y="80" width="3" height="1"/>
<rect x="1026" y="121" width="3" height="1"/>
<rect x="1026" y="162" width="3" height="1"/>
<rect x="1026" y="203" width="3" height="1"/>
<rect x="1026" y="244" width="3" height="1"/>
<rect x="1026" y="285" width="3" height="1"/>
<rect x="1026" y="325" width="3" height="1"/>
<rect x="1026" y="366" width="3" height="1"/>
<rect x="1026" y="407" width="3" height="1"/>
<rect x="1026" y="448" width="3" height="1"/>
<rect x="1026" y="489" width="3" height="1"/>
<rect x="7" y="526" width="1" height="3"/>
<rect x="134" y="526" width="1" height="3"/>
<rect x="262" y="526" width="1" height="3"/>
<rect x="384" y="526" width="1" height="3"/>
<rect x="517" y="526" width="1" height="3"/>
<rect x="657" y="526" width="1" height="3"/>
<rect x="779" y="526" width="1" height="3"/>
<rect x="919" y="526" width="1" height="3"/>
<rect x="1022" y="526" width="1" height="3"/>
</g>
<rect x="1025" y="418" width="41" height="17" fill="#ef5350" shape-rendering="crispEdges"/>
<rect x="1025" y="426" width="3" height="1" fill="#fff" shape-rendering="crispEdges"/>
<g font-family="Liberation Sans, sans-serif" font-size="11" fill="#555555">
<text x="1031.3" y="85" letter-spacing="-0.22">84000</text>
<text x="1031.3" y="126" letter-spacing="-0.22">83000</text>
<text x="1031.3" y="167" letter-spacing="-0.22">82000</text>
<text x="1031.3" y="208" letter-spacing="-0.22">81000</text>
<text x="1031.3" y="249" letter-spacing="-0.22">80000</text>
<text x="1031.3" y="290" letter-spacing="-0.22">79000</text>
<text x="1031.3" y="330" letter-spacing="-0.22">78000</text>
<text x="1031.3" y="371" letter-spacing="-0.22">77000</text>
<text x="1031.3" y="412" letter-spacing="-0.22">76000</text>
<text x="1031.3" y="453" letter-spacing="-0.22">75000</text>
<text x="1031.3" y="494" letter-spacing="-0.22">74000</text>
<text x="1031.5" y="430" fill="#fff" letter-spacing="-0.15">75543</text>
</g>
<g font-family="Liberation Sans, sans-serif" font-size="11" fill="#4a4a4a" text-anchor="middle" clip-path="url(#xax)">
<text x="6.8" y="543" font-weight="bold">Апр</text>
<text x="133.8" y="543" font-weight="bold">Май</text>
<text x="261.8" y="543" font-weight="bold">Июн</text>
<text x="383.8" y="543" font-weight="bold">Июл</text>
<text x="516.8" y="543" font-weight="bold">Авг</text>
<text x="656.8" y="543" font-weight="bold">Сен</text>
<text x="778.8" y="543" font-weight="bold">Окт</text>
<text x="918.8" y="543" font-weight="bold">Ноя</text>
<text x="1021.7" y="543">26</text>
</g>
<path d="M142.6 575.1 C140.9 575.1 139.9 573.2 139.9 570.8 C139.9 568.2 141.6 566.2 144.3 566 C144.6 563 147.2 560.5 150.4 560.5 C152.8 560.5 154.6 561.5 155.8 562.8 C157.6 562.8 159.6 563.8 160.5 565.4 L160.9 567.2 C162.6 567.6 163.8 569.2 163.8 571.2 C163.8 573.4 162.4 575.1 160.6 575.1 Z" fill="#56c1e6"/>
<path d="M140.5 572.7 L148.5 566.0 L154.0 573.5 L161.2 564.4" fill="none" stroke="#fff" stroke-width="1.6" stroke-linejoin="miter"/>
<path d="M162.9 25.3L174.3 25.3L168.6 35.8z" fill="#a60000"/>
</svg>
<div class="t" style="left:6.20px;top:5.42px;font-size:12.5px;font-weight:normal;color:#3db1e6;letter-spacing:0.15px;">Cashwill_Forts_Stock</div>
<div class="t" style="left:134.00px;top:5.42px;font-size:12.5px;font-weight:normal;color:#1a1a1a;letter-spacing:0.08px;">опубликовал(а)</div>
<div class="t" style="left:228.00px;top:5.42px;font-size:12.5px;font-weight:normal;color:#1a1a1a;letter-spacing:0px;">на</div>
<div class="t" style="left:246.00px;top:5.42px;font-size:12.5px;font-weight:normal;color:#1a1a1a;letter-spacing:0.24px;">TradingView.com,</div>
<div class="t" style="left:351.30px;top:5.42px;font-size:12.5px;font-weight:normal;color:#1a1a1a;letter-spacing:0.08px;">Ноябрь</div>
<div class="t" style="left:398.30px;top:5.42px;font-size:12.5px;font-weight:normal;color:#1a1a1a;letter-spacing:0px;">20,</div>
<div class="t" style="left:418.90px;top:5.42px;font-size:12.5px;font-weight:normal;color:#1a1a1a;letter-spacing:0px;">2018</div>
<div class="t" style="left:450.00px;top:5.42px;font-size:12.5px;font-weight:normal;color:#1a1a1a;letter-spacing:0px;">06:38</div>
<div class="t" style="left:485.40px;top:5.42px;font-size:12.5px;font-weight:normal;color:#1a1a1a;letter-spacing:-1.3px;">MSK</div>
<div class="t" style="left:6.20px;top:23.64px;font-size:12px;font-weight:bold;color:#000;letter-spacing:-0.08px;">MOEX:EUZ2018,</div>
<div class="t" style="left:104.30px;top:23.64px;font-size:12px;font-weight:bold;color:#000;letter-spacing:-0.2px;">1D</div>
<div class="t" style="left:125.80px;top:23.64px;font-size:12px;font-weight:normal;color:#1a1a1a;letter-spacing:0px;">75543</div>
<div class="t" style="left:177.00px;top:23.64px;font-size:12px;font-weight:normal;color:#1a1a1a;letter-spacing:0.1px;">&minus;422</div>
<div class="t" style="left:207.80px;top:23.64px;font-size:12px;font-weight:normal;color:#1a1a1a;letter-spacing:-0.08px;">(&minus;0.56%)</div>
<div class="t" style="left:261.80px;top:23.64px;font-size:12px;font-weight:bold;color:#000;letter-spacing:0px;">O:</div>
<div class="t" style="left:276.20px;top:23.64px;font-size:12px;font-weight:normal;color:#a61c1c;letter-spacing:0px;">75900</div>
<div class="t" style="left:315.20px;top:23.64px;font-size:12px;font-weight:bold;color:#000;letter-spacing:0px;">H:</div>
<div class="t" style="left:329.40px;top:23.64px;font-size:12px;font-weight:normal;color:#a61c1c;letter-spacing:0px;">75904</div>
<div class="t" style="left:368.40px;top:23.64px;font-size:12px;font-weight:bold;color:#000;letter-spacing:0px;">L:</div>
<div class="t" style="left:379.40px;top:23.64px;font-size:12px;font-weight:normal;color:#a61c1c;letter-spacing:0px;">75460</div>
<div class="t" style="left:418.10px;top:23.64px;font-size:12px;font-weight:bold;color:#000;letter-spacing:0px;">C:</div>
<div class="t" style="left:430.70px;top:23.64px;font-size:12px;font-weight:normal;color:#a61c1c;letter-spacing:0px;">75543</div>
<div class="t" style="left:14.70px;top:55.18px;font-size:11.6px;font-weight:bold;color:#4d4d4d;letter-spacing:-0.29px;">EURO-RUBLE</div>
<div class="t" style="left:92.70px;top:55.18px;font-size:11.6px;font-weight:bold;color:#4d4d4d;letter-spacing:-0.68px;">FUTURES</div>
<div class="t" style="left:148.80px;top:55.18px;font-size:11.6px;font-weight:bold;color:#4d4d4d;letter-spacing:0px;">(DEC</div>
<div class="t" style="left:179.50px;top:55.18px;font-size:11.6px;font-weight:bold;color:#4d4d4d;letter-spacing:-0.08px;">2018),</div>
<div class="t" style="left:218.20px;top:55.18px;font-size:11.6px;font-weight:bold;color:#4d4d4d;letter-spacing:0px;">1Д,</div>
<div class="t" style="left:240.20px;top:55.18px;font-size:11.6px;font-weight:bold;color:#4d4d4d;letter-spacing:0.55px;">MOEX</div>
<div class="t" style="left:14.70px;top:71.84px;font-size:12px;font-weight:normal;color:#4d4d4d;letter-spacing:0px;">EMA</div>
<div class="t" style="left:45.00px;top:71.84px;font-size:12px;font-weight:normal;color:#4d4d4d;letter-spacing:0px;">(20,</div>
<div class="t" style="left:69.90px;top:71.84px;font-size:12px;font-weight:normal;color:#4d4d4d;letter-spacing:0px;">close)</div>
<div class="t" style="left:6.00px;top:561.42px;font-size:12.5px;font-weight:normal;color:#111;letter-spacing:0px;">Создано при помощи</div>
<div class="t" style="left:170.20px;top:561.25px;font-size:12.7px;font-weight:normal;color:#3db1e6;letter-spacing:0.02px;">TradingView</div>
</body></html>
